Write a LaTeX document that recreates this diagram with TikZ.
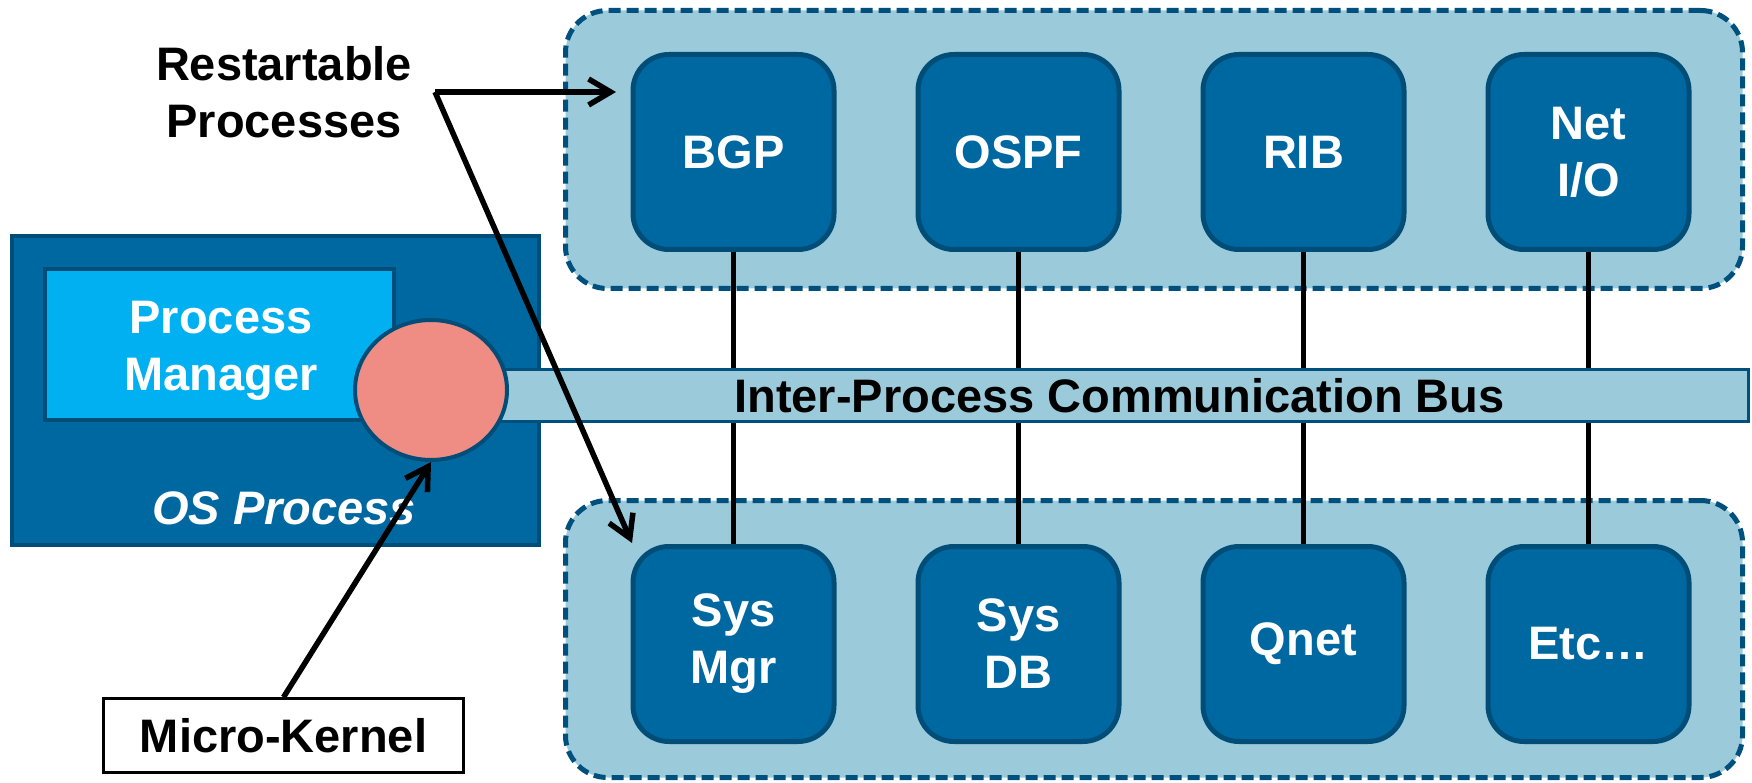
\documentclass[tikz,border=0pt]{standalone}
\usepackage{fontspec}
\setmainfont{Liberation Sans}
\usetikzlibrary{shapes.geometric,arrows.meta}
\definecolor{dkblue}{HTML}{0068A1}
\definecolor{dkedge}{HTML}{004E78}
\definecolor{ltblue}{HTML}{9BCADB}
\definecolor{grpedge}{HTML}{00507E}
\definecolor{cyanbox}{HTML}{00B0F0}
\definecolor{salmon}{HTML}{EF8C84}
\begin{document}
\begin{tikzpicture}[x=1pt,y=-1pt,
  txt/.style={font=\fontsize{47}{57}\selectfont\bfseries, align=center, inner sep=0pt},
  group/.style={draw=grpedge, fill=ltblue, line width=5pt, dash pattern=on 12pt off 6pt, rounded corners=42pt, inner sep=0pt},
  proc/.style={rectangle, draw=dkedge, fill=dkblue, line width=5pt, rounded corners=36pt, minimum width=201pt, minimum height=195pt, txt, text=white},
  link/.style={line width=5.5pt, black},
  callout/.style={line width=5.5pt, black, -{Straight Barb[length=22pt,width=26pt,line width=5.5pt]}},
]
\useasboundingbox (0,0) rectangle (1752,783);

% groups
\node[group, minimum width=1177pt, minimum height=278pt] (topgrp) at (1154,149.5) {};
\node[group, minimum width=1177pt, minimum height=277pt] (botgrp) at (1154,639) {};

% process boxes
\node[proc] (bgp)  at (733.5,152) {BGP};
\node[proc] (ospf) at (1018.5,152) {OSPF};
\node[proc] (rib)  at (1303.5,152) {RIB};
\node[proc] (netio) at (1588.5,152) {Net\\I/O};
\node[proc] (sysmgr) at (733.5,644) {Sys\\Mgr};
\node[proc] (sysdb)  at (1018.5,644) {Sys\\DB};
\node[proc] (qnet)   at (1303.5,644) {Qnet};
\node[proc] (etc)    at (1588.5,644) {Etc\ldots};

% bus links
\draw[link] (bgp.south) -- (sysmgr.north);
\draw[link] (ospf.south) -- (sysdb.north);
\draw[link] (rib.south) -- (qnet.north);
\draw[link] (netio.south) -- (etc.north);

% OS process
\node[rectangle, draw=dkedge, fill=dkblue, line width=4pt, minimum width=527pt, minimum height=309pt, inner sep=0pt] (osbox) at (275.5,390.5) {};
\node[rectangle, draw=dkedge, fill=cyanbox, line width=4pt, minimum width=349pt, minimum height=151pt, inner sep=0pt] (pmbox) at (219.5,344.5) {};
\node[txt, text=white] (pmtext) at (221,351) {Process\\Manager};
\node[txt, text=white, font=\fontsize{47}{57}\selectfont\bfseries\itshape] (ostext) at (284,508) {OS Process};

% bus
\node[rectangle, draw=grpedge, fill=ltblue, line width=3pt, minimum width=1258pt, minimum height=52pt, txt] (bus) at (1119.5,395.5) {Inter-Process Communication Bus};

% micro-kernel ellipse
\node[ellipse, draw=dkedge, fill=salmon, line width=4pt, minimum width=152pt, minimum height=140pt, inner sep=0pt] (kern) at (431,390) {};

% labels
\node[txt] (rp) at (284,92.5) {Restartable\\Processes};
\node[rectangle, draw=black, fill=white, line width=2.5pt, minimum width=360pt, minimum height=74pt, txt] (mk) at (283.5,735.5) {Micro-Kernel};

% callouts
\coordinate (rpj) at (435,92);
\coordinate (rpt1) at (616,92);
\coordinate (rpt2) at (632,543);
\draw[callout] (rpj) -- (rpt1);
\draw[callout] (rpj) -- (rpt2);
\draw[callout] (mk.north) -- (kern.south);
\end{tikzpicture}
\end{document}
